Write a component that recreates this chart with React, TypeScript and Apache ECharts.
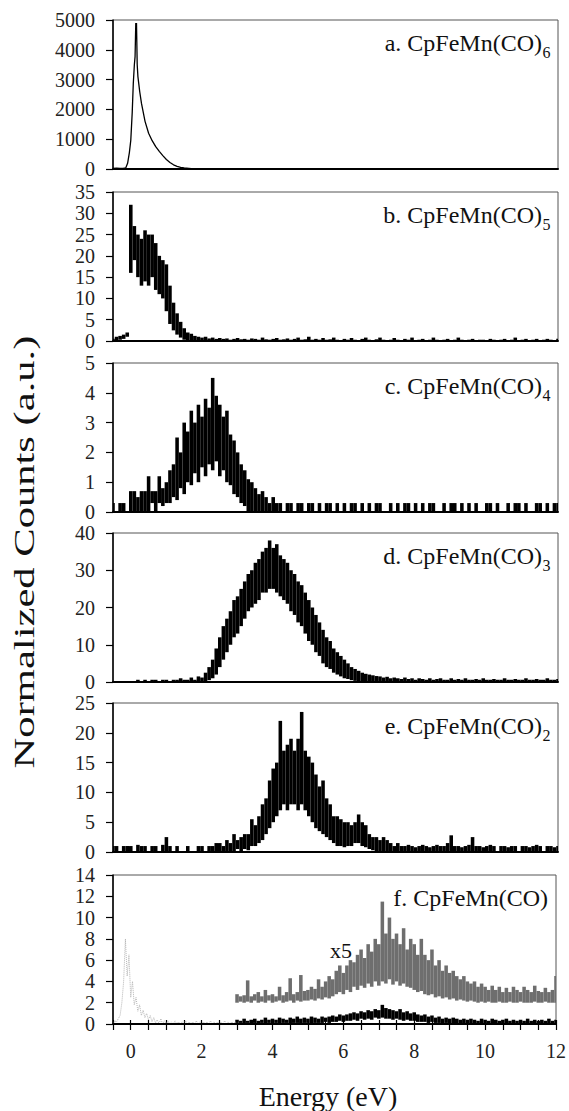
import React, { useEffect, useRef } from "react";
import * as echarts from "echarts";

const FONT = "Liberation Serif, serif";

// Energy grid for the noisy spectra: one value pair per 0.1 eV bin from -0.5 eV
const E_START = -0.5;
const E_STEP = 0.1;

// Panel a: smooth peak
const aEnergy = [-0.5, -0.4, -0.3, -0.2, -0.14, -0.09, -0.04, 0, 0.04, 0.07, 0.1, 0.12, 0.14, 0.15, 0.16, 0.18, 0.2, 0.25, 0.3, 0.4, 0.5, 0.6, 0.7, 0.8, 0.9, 1.0, 1.1, 1.2, 1.3, 1.4, 1.5, 1.7, 2.0, 3.0, 12];
const aCounts = [20, 30, 20, 30, 40, 190, 550, 970, 1900, 2870, 3500, 3770, 4900, 4500, 4900, 3500, 3100, 2600, 2200, 1600, 1200, 950, 750, 590, 450, 320, 220, 140, 90, 56, 35, 15, 8, 5, 5];

// Panel b (upper / lower envelope of the noisy trace per bin)
const bHi = [
  0.5, 1, 1.2, 1.5, 2, 32, 27, 25, 24, 26,
  25, 25, 23, 20, 19, 18, 13, 9, 6.5, 4.5,
  3, 2, 1.7, 1.2, 1, 0.8, 1, 0.6, 0.8, 0.5,
  0.7, 0.5, 0.6, 0.3, 0.5, 0.7, 0.4, 0.5, 0.3, 0.6,
  0.5, 0.3, 0.8, 0.4, 0.3, 0.5, 0.7, 0.3, 0.4, 0.6,
  0.3, 0.5, 0.8, 0.3, 0.4, 1, 0.3, 0.5, 0.3, 0.7,
  0.3, 0.4, 0.8, 0.3, 0, 0.5, 0.3, 0.7, 0.3, 0,
  0.5, 0.8, 0.3, 0, 0.4, 0.8, 0.3, 0, 0.3, 0.7,
  0.3, 0, 0.5, 0.3, 0.8, 0, 0.3, 0.5, 0, 0.3,
  0.8, 0.3, 0, 0.3, 0.5, 0, 0.3, 0.8, 0.3, 0,
  0.3, 0.5, 0, 0.3, 0.3, 0, 0.5, 0.3, 0, 0.3,
  0.5, 0, 0.3, 0.8, 0, 0.3, 0.5, 0, 0.3, 0.5,
  0, 0.3, 0.5, 0.3, 0, 0.5,
];
const bLo = [
  0, 0, 0.3, 0.5, 1, 16, 19, 15, 13, 14,
  13, 15, 12, 11, 10, 7, 4, 2.5, 1.5, 0.8,
  0.3, 0.2, 0, 0, 0, 0, 0.2, 0, 0.2, 0,
];

// Panel c
const cHi = [
  0.3, 0, 0.3, 0.3, 0, 0.7, 0.7, 0.5, 0.7, 0.7,
  1.2, 0.7, 0.7, 1.2, 0.8, 1.0, 1.4, 1.6, 2.5, 2.0,
  3.0, 2.7, 3.4, 3.0, 3.6, 3.2, 3.8, 3.5, 4.5, 3.9,
  3.6, 3.2, 3.4, 2.6, 2.4, 2.0, 1.6, 1.4, 1.1, 1.0,
  0.8, 0.6, 0.7, 0.5, 0.3, 0.5, 0.3, 0.3, 0, 0.3,
  0.3, 0, 0.3, 0.3, 0, 0.3, 0.3, 0, 0.3, 0,
  0.3, 0.3, 0, 0.3, 0, 0.3, 0, 0.3, 0.3, 0,
  0.3, 0, 0.3, 0, 0.3, 0.3, 0, 0, 0.3, 0,
  0.3, 0, 0.3, 0.3, 0, 0.3, 0, 0.3, 0, 0.3,
  0.3, 0, 0, 0.3, 0, 0.3, 0.3, 0, 0.3, 0,
  0.3, 0, 0.3, 0, 0, 0.3, 0.3, 0, 0.3, 0,
  0, 0.3, 0, 0.3, 0.3, 0, 0.3, 0, 0, 0.3,
  0.3, 0, 0.3, 0, 0.3, 0.3,
];
const cLo = [
  0, 0, 0, 0, 0, 0, 0, 0, 0, 0,
  0, 0.3, 0, 0.3, 0.2, 0.3, 0.3, 0.5, 0.4, 0.8,
  0.6, 1.0, 0.9, 1.3, 1.0, 1.5, 1.2, 1.6, 1.4, 1.7,
  1.2, 1.4, 1.0, 0.9, 0.6, 0.5, 0.3, 0.2,
];

// Panel d
const dHi = [
  0, 0, 0, 0, 0, 0, 0, 0.6, 0, 0.6,
  0, 0.6, 0.6, 0, 0.6, 0.6, 0, 0.6, 0.6, 1.0,
  0.6, 0.6, 1.2, 0.6, 1.5, 1.2, 2.5, 4, 6, 9,
  12, 15, 17, 19, 22, 23, 25, 27, 29, 30,
  32, 33, 35, 36, 38, 36, 37, 34, 33, 32,
  30, 29, 27, 26, 24, 22, 20, 18, 16, 14,
  12, 11, 9, 8, 7, 6, 5, 4, 3.5, 3,
  2.5, 2.2, 2, 1.8, 1.6, 1.5, 1.2, 1.4, 1, 1.2,
  1, 0.8, 1.2, 0.8, 1, 0.6, 1, 0.8, 0.6, 1,
  0.6, 0.8, 1, 0.6, 0.6, 1, 0.6, 0.8, 0.6, 1,
  0.6, 0.6, 0.8, 0.6, 1, 0.6, 0.6, 0.8, 0.6, 0.6,
  1, 0.6, 0.6, 0.8, 0.6, 0.6, 1, 0.6, 0.6, 0.8,
  0.6, 0.6, 1, 0.6, 0.6, 0.8,
];
const dLo = [
  0, 0, 0, 0, 0, 0, 0, 0, 0, 0,
  0, 0, 0, 0, 0, 0, 0, 0, 0, 0,
  0, 0, 0, 0, 0, 0, 0, 0.5, 1, 2,
  4, 6, 8, 10, 12, 13, 15, 17, 19, 20,
  21, 22, 24, 24, 25, 25, 24, 23, 22, 21,
  19, 18, 16, 15, 13, 11, 10, 8, 7, 5,
  4, 3.5, 2.5, 2, 1.5, 1, 0.8, 0.5, 0.3, 0.2,
];

// Panel e
const eHi = [
  1, 1, 0, 1, 1, 1, 0, 1.2, 1, 1,
  0, 1, 1, 0, 1.2, 2.5, 1, 0, 1, 0,
  0, 1, 0, 0, 1, 1, 0, 1, 1, 1.5,
  1.5, 1, 2, 1.5, 3, 2, 2.5, 3, 3, 5.5,
  4.5, 6, 8, 9, 12, 14, 15, 22, 17, 18,
  19, 17, 19, 23.5, 17, 16, 15, 13, 11, 12,
  9, 8, 6, 6, 5.5, 5, 5, 4.5, 5, 6.3,
  5, 4.5, 3, 2.5, 2.5, 2, 2.5, 2, 1.5, 1,
  1.5, 1, 1, 1.2, 1, 0.8, 1, 1.2, 1, 0.8,
  1, 1.2, 1, 1, 1.5, 2.8, 1, 1, 0.8, 1,
  1.2, 2.5, 1, 1, 0.8, 1, 1.2, 1, 0, 1,
  1, 0.8, 1, 1, 0, 1, 1, 0.8, 1, 1.2,
  1, 0, 1, 1, 0.8, 1,
];
const eLo = [
  0, 0, 0, 0, 0, 0, 0, 0, 0, 0,
  0, 0, 0, 0, 0, 0, 0, 0, 0, 0,
  0, 0, 0, 0, 0, 0, 0, 0, 0, 0,
  0, 0, 0, 0, 0, 0.5, 0, 0.5, 0.3, 1,
  1, 1.5, 2, 3, 4, 5, 6, 7, 8, 7,
  8, 8, 7, 8, 7, 6, 5, 4, 3.5, 3,
  2.5, 2, 1.5, 1, 1, 0.8, 1, 1, 1.5, 1.5,
  1, 0.8, 0.5, 0.3,
];

// Panel f: black trace and grey "x5" trace start at 3.0 eV (bin index 35)
const fStartIndex = 35;
const fBlackHi = [
  0.4, 0.3, 0.5, 0.3, 0.4, 0.5, 0.3, 0.4, 0.6, 0.4,
  0.5, 0.4, 0.6, 0.5, 0.4, 0.6, 0.5, 0.7, 0.5, 0.6,
  0.5, 0.7, 0.6, 0.5, 0.7, 0.6, 0.7, 0.8, 0.7, 0.9,
  0.8, 0.9, 1.0, 1.1, 1.0, 1.2, 1.1, 1.3, 1.2, 1.4,
  1.3, 1.8, 1.5, 1.4, 1.3, 1.2, 1.4, 1.1, 1.2, 1.0,
  1.1, 0.9, 0.8, 0.9, 0.7, 0.8, 0.6, 0.7, 0.5, 0.6,
  0.5, 0.6, 0.5, 0.4, 0.5, 0.4, 0.5, 0.4, 0.3, 0.5,
  0.4, 0.3, 0.5, 0.4, 0.3, 0.4, 0.5, 0.3, 0.4, 0.3,
  0.4, 0.3, 0.5, 0.3, 0.4, 0.3, 0.4, 0.3, 0.5, 0.3, 0.4,
];
const fBlackLo = [
  0, 0.1, 0, 0.1, 0, 0.1, 0, 0.1, 0, 0.1,
  0, 0.1, 0, 0.1, 0.1, 0, 0.1, 0.1, 0, 0.1,
  0.1, 0, 0.1, 0.1, 0.1, 0.2, 0.1, 0.2, 0.2, 0.3,
  0.2, 0.3, 0.3, 0.4, 0.3, 0.5, 0.4, 0.5, 0.4, 0.6,
  0.5, 0.6, 0.5, 0.5, 0.4, 0.5, 0.4, 0.3, 0.4, 0.3,
  0.3, 0.2, 0.2, 0.2, 0.1, 0.2, 0.1, 0.1, 0, 0.1,
];
const fGreyHi = [
  2.8, 2.6, 2.7, 4.1, 2.6, 2.8, 3.0, 2.6, 3.2, 2.7,
  2.8, 2.6, 3.5, 2.7, 3.0, 4.3, 2.8, 3.0, 4.6, 3.1,
  3.2, 3.5, 3.3, 4.2, 3.5, 4.0, 4.5, 4.2, 5.0, 5.5,
  4.8, 5.5, 6.0, 5.8, 6.5, 7.0, 6.2, 7.5, 6.8, 8.0,
  7.5, 11.5, 8.5, 10.0, 8.0, 8.5, 7.5, 9.0, 7.0, 8.0,
  7.5, 6.5, 8.0, 6.5, 6.0, 7.0, 5.5, 6.0, 5.0, 5.5,
  4.8, 5.0, 4.5, 4.2, 4.5, 4.0, 3.8, 4.0, 3.5, 3.8,
  3.5, 3.2, 3.6, 3.2, 3.5, 3.0, 3.4, 3.0, 3.5, 3.2,
  3.0, 3.5, 3.2, 3.0, 3.6, 3.1, 3.0, 3.4, 3.0, 3.2, 4.5,
];
const fGreyLo = [
  2, 2.1, 2, 2.1, 2, 2.2, 2, 2.1, 2, 2.2,
  2, 2.1, 2.2, 2, 2.1, 2.2, 2, 2.2, 2.1, 2.2,
  2.2, 2.3, 2.2, 2.4, 2.3, 2.5, 2.4, 2.6, 2.8, 3.0,
  2.8, 3.2, 3.0, 3.5, 3.2, 3.6, 3.4, 3.8, 3.5, 4.0,
  3.6, 4.0, 3.8, 4.2, 3.7, 4.0, 3.6, 3.8, 3.5, 3.4,
  3.2, 3.0, 3.1, 2.8, 2.7, 2.8, 2.5, 2.6, 2.4, 2.5,
  2.3, 2.4, 2.2, 2.3, 2.2, 2.1, 2.2, 2.1, 2, 2.1,
  2, 2.1, 2, 2, 2.1, 2, 2, 2.1, 2, 2,
  2.1, 2, 2, 2, 2.1, 2, 2, 2.1, 2, 2, 2,
];
// light grey dotted trace from -0.5 to 3.0 eV
const fDotHi = [
  0.3, 0.5, 2, 8, 6.5, 4, 2.5, 1.8, 1.3, 1,
  0.8, 0.6, 0.4, 0.5, 0.3, 0.3, 0.2, 0.3, 0.2, 0.2,
  0.3, 0.2, 0.2, 0.3, 0.2, 0.2, 0.2, 0.3, 0.2, 0.2,
  0.2, 0.3, 0.2, 0.2, 0.2, 0.2,
];
const fDotLo = [0, 0.2, 0.8, 4, 4.5, 2.5, 1.8, 1.2, 0.8, 0.6, 0.4, 0.2, 0.1];

const panelNames = ["a. CpFeMn(CO)", "b. CpFeMn(CO)", "c. CpFeMn(CO)", "d. CpFeMn(CO)", "e. CpFeMn(CO)", "f. CpFeMn(CO)"];
const panelSubs = ["6", "5", "4", "3", "2", ""];
const yMax = [5000, 35, 5, 40, 25, 14];
const yStep = [1000, 5, 1, 10, 5, 2];
const xMin = -0.5;
const xMax = 12;
const xStep = 0.5;

function binX(startIndex: number, k: number) {
  return +(E_START + (startIndex + k) * E_STEP).toFixed(3);
}

// noisy trace drawn as one vertical block per bin, from lower to upper envelope
function bandSeries(hi: number[], lo: number[], startIndex: number, axis: number, color: string, frac: number) {
  return {
    type: "custom",
    xAxisIndex: axis,
    yAxisIndex: axis,
    silent: true,
    animation: false,
    clip: true,
    encode: { x: 0, y: [1, 2] },
    data: hi.map((h, k) => [binX(startIndex, k), lo[k] ?? 0, h]),
    renderItem: (_p: any, api: any) => {
      const x = api.value(0);
      const l = api.value(1);
      const h = api.value(2);
      if (!(h > l)) return { type: "group", children: [] };
      const top = api.coord([x, h]);
      const bot = api.coord([x, l]);
      const w = api.size([E_STEP, 0])[0] * frac;
      return {
        type: "rect",
        shape: { x: top[0] - w / 2, y: top[1], width: w, height: bot[1] - top[1] },
        style: { fill: color },
      };
    },
  };
}

// zig-zag line between lower and upper envelope (used for the faint dotted trace)
function zigzag(hi: number[], lo: number[], startIndex = 0): number[][] {
  const out: number[][] = [];
  hi.forEach((h, k) => {
    const x = binX(startIndex, k);
    out.push([x, lo[k] ?? 0]);
    out.push([+(x + E_STEP / 2).toFixed(3), h]);
  });
  return out;
}

export default function App() {
  const ref = useRef<HTMLDivElement>(null);
  useEffect(() => {
    if (!ref.current) return;
    const chart = echarts.init(ref.current, undefined, { renderer: "svg" });
    const tops = [20, 192, 363, 533, 703, 875];
    const H = 149;
    const L = 113;
    const W = 445;
    const grids = tops.map((t) => ({
      left: L,
      top: t,
      width: W,
      height: H,
      show: true,
      borderColor: "#555",
      borderWidth: 1,
      backgroundColor: "transparent",
    }));
    const xAxes: any[] = tops.map((_, i) => ({
      type: "value",
      gridIndex: i,
      min: xMin,
      max: xMax,
      interval: xStep,
      axisLine: { show: true, onZero: false, lineStyle: { color: "#000", width: 2 } },
      axisTick: { show: i === 5, length: 6, lineStyle: { color: "#000", width: 1.2 } },
      axisLabel: {
        show: i === 5,
        margin: 17,
        color: "#222",
        fontFamily: FONT,
        fontSize: 20,
        formatter: (v: number) => (Math.abs(v % 2) < 1e-9 ? String(v) : ""),
      },
      splitLine: { show: false },
      z: 5,
    }));
    xAxes.push({
      type: "value",
      gridIndex: 5,
      position: "bottom",
      min: xMin,
      max: xMax,
      interval: xStep,
      axisLine: { show: false, onZero: false },
      axisTick: { show: true, inside: true, length: 4, lineStyle: { color: "#000", width: 1.2 } },
      axisLabel: { show: false },
      splitLine: { show: false },
    });
    const yAxes = tops.map((_, i) => ({
      type: "value",
      gridIndex: i,
      min: 0,
      max: yMax[i],
      interval: yStep[i],
      axisLine: { show: true, onZero: false, lineStyle: { color: "#000", width: 1.5 } },
      axisTick: { show: true, length: 7, lineStyle: { color: "#000", width: 1.2 } },
      axisLabel: { margin: 18, color: "#222", fontFamily: FONT, fontSize: 20, formatter: (v: number) => String(v) },
      splitLine: { show: false },
    }));
    const FR = 1.0;
    const series: any[] = [
      {
        type: "line",
        symbol: "none",
        silent: true,
        animation: false,
        xAxisIndex: 0,
        yAxisIndex: 0,
        data: aEnergy.map((e, k) => [e, aCounts[k]]),
        lineStyle: { color: "#000", width: 1.3 },
      },
      bandSeries(bHi, bLo, 0, 1, "#000", FR),
      bandSeries(cHi, cLo, 0, 2, "#000", FR),
      bandSeries(dHi, dLo, 0, 3, "#000", FR),
      bandSeries(eHi, eLo, 0, 4, "#000", FR),
      {
        type: "line",
        symbol: "none",
        silent: true,
        animation: false,
        xAxisIndex: 5,
        yAxisIndex: 5,
        data: zigzag(fDotHi, fDotLo),
        lineStyle: { color: "#b5b5b5", width: 1, type: "dotted" },
      },
      bandSeries(fGreyHi, fGreyLo, fStartIndex, 5, "#6e6e6e", FR),
      bandSeries(fBlackHi, fBlackLo, fStartIndex, 5, "#000", FR),
    ];
    const txt = (size: number) => ({ fontFamily: FONT, fontSize: size, fill: "#111" });
    const graphic: any[] = [];
    tops.forEach((t, i) => {
      const hasSub = panelSubs[i] !== "";
      const rightEdge = hasSub ? 542 : 548;
      graphic.push({
        type: "text",
        x: rightEdge,
        y: t + 23,
        style: { text: panelNames[i], ...txt(24), align: "right", verticalAlign: "middle" },
      });
      if (hasSub) {
        graphic.push({
          type: "text",
          x: rightEdge + 0.5,
          y: t + 32,
          style: { text: panelSubs[i], ...txt(16), align: "left", verticalAlign: "middle" },
        });
      }
    });
    graphic.push({
      type: "text",
      x: 341,
      y: 950,
      style: { text: "x5", ...txt(22), align: "center", verticalAlign: "middle" },
    });
    graphic.push({
      type: "text",
      x: 328,
      y: 1096,
      style: { text: "Energy (eV)", ...txt(28), align: "center", verticalAlign: "middle" },
    });
    graphic.push({
      type: "text",
      x: 24,
      y: 552,
      rotation: Math.PI / 2,
      scaleX: 1.42,
      style: { text: "Normalized Counts (a.u.)", ...txt(30), align: "center", verticalAlign: "middle" },
    });
    chart.setOption({
      animation: false,
      backgroundColor: "#fff",
      grid: grids,
      xAxis: xAxes,
      yAxis: yAxes,
      series,
      graphic,
    });
    return () => chart.dispose();
  }, []);
  return <div ref={ref} style={{ position: "absolute", left: 0, top: 0, width: 569, height: 1111 }} />;
}
